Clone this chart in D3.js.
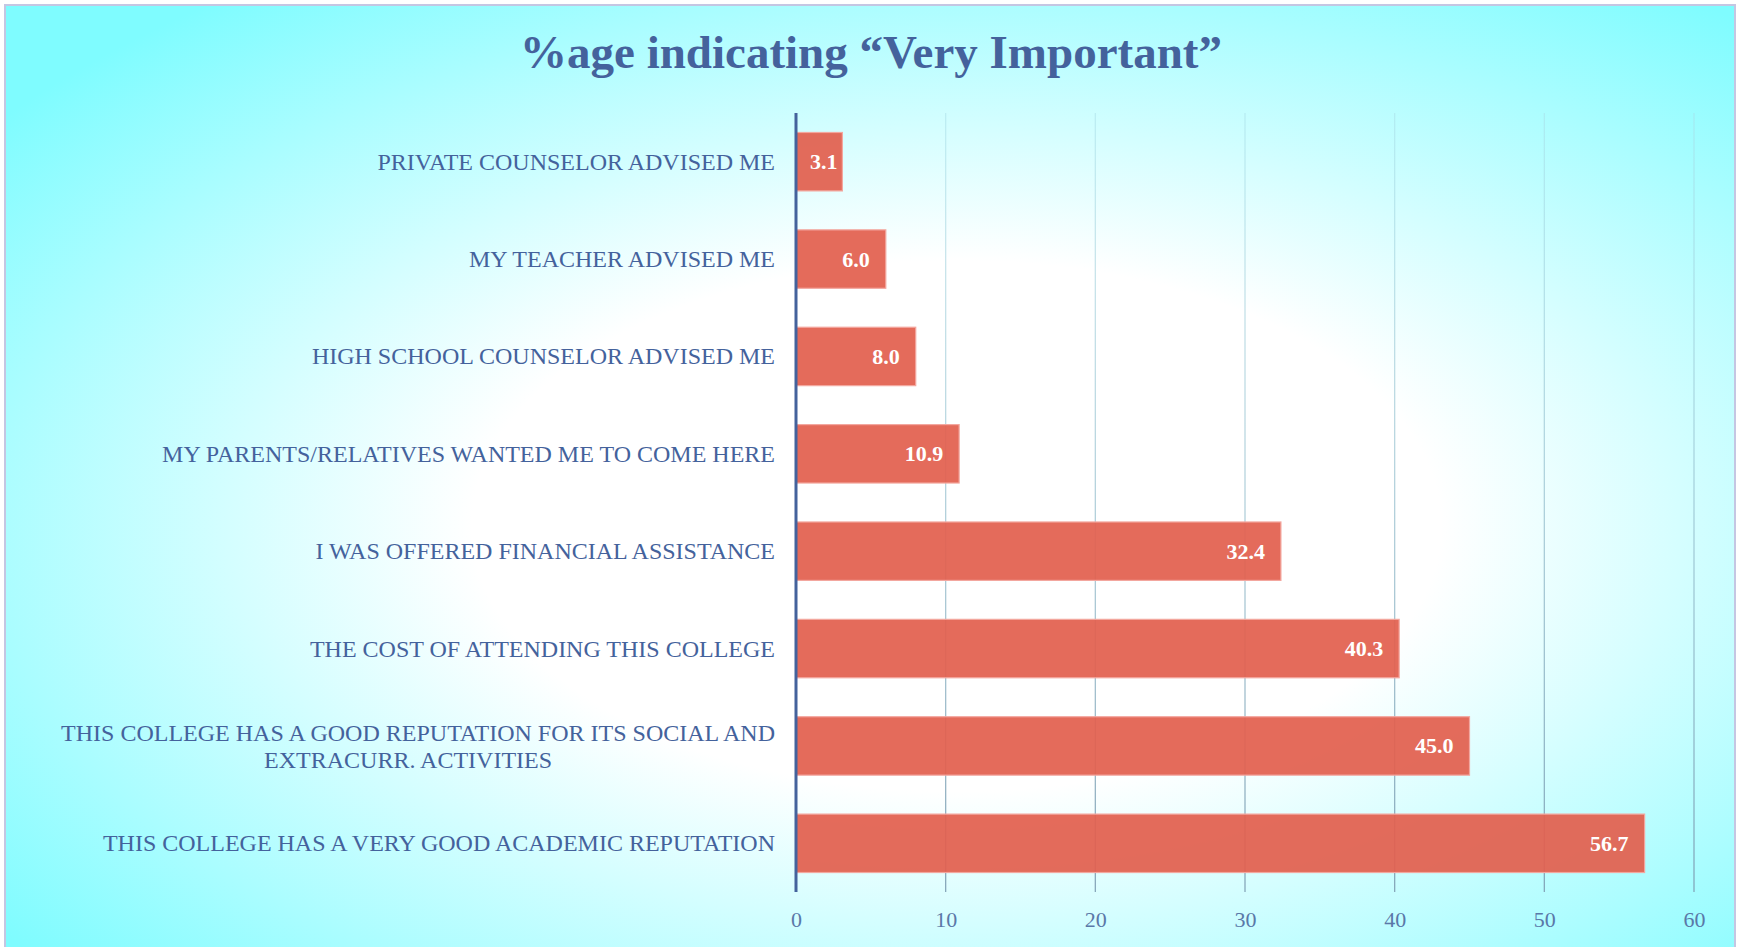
<!DOCTYPE html>
<html>
<head>
<meta charset="utf-8">
<script src="https://cdn.jsdelivr.net/npm/d3@7"></script>
<style>
  body { margin: 0; background: #fff; }
  svg text { font-family: "Liberation Serif", "DejaVu Serif", serif; }
</style>
</head>
<body>
<svg id="chart"></svg>
<script>
const width = 1739, height = 947;

const categories = [
  "PRIVATE COUNSELOR ADVISED ME",
  "MY TEACHER ADVISED ME",
  "HIGH SCHOOL COUNSELOR ADVISED ME",
  "MY PARENTS/RELATIVES WANTED ME TO COME HERE",
  "I WAS OFFERED FINANCIAL ASSISTANCE",
  "THE COST OF ATTENDING THIS COLLEGE",
  "THIS COLLEGE HAS A GOOD REPUTATION FOR ITS SOCIAL AND|EXTRACURR. ACTIVITIES",
  "THIS COLLEGE HAS A VERY GOOD ACADEMIC REPUTATION"
];
const values = [3.1, 6.0, 8.0, 10.9, 32.4, 40.3, 45.0, 56.7];
const ticks = [0, 10, 20, 30, 40, 50, 60];
const title = "%age indicating \u201cVery Important\u201d";

const textColor = "#44629c";
const margin = { top: 113, right: 45, bottom: 55, left: 796 };

const svg = d3.select("#chart").attr("width", width).attr("height", height);

// background
const defs = svg.append("defs");
const bg = defs.append("radialGradient")
  .attr("id", "bg")
  .attr("cx", "0.55").attr("cy", "0.55").attr("r", "0.7");
bg.append("stop").attr("offset", "0").attr("stop-color", "#ffffff");
bg.append("stop").attr("offset", "0.4").attr("stop-color", "#ffffff");
bg.append("stop").attr("offset", "1").attr("stop-color", "#7ffcff");

// gridlines fade in towards the bottom
const gg = defs.append("linearGradient")
  .attr("id", "grid")
  .attr("gradientUnits", "userSpaceOnUse")
  .attr("x1", 0).attr("x2", 0)
  .attr("y1", margin.top).attr("y2", height - margin.bottom);
gg.append("stop").attr("offset", "0").attr("stop-color", "#a8dce6").attr("stop-opacity", 0.5);
gg.append("stop").attr("offset", "1").attr("stop-color", "#7d9db2").attr("stop-opacity", 0.9);

svg.append("rect")
  .attr("x", 5).attr("y", 5)
  .attr("width", width - 9).attr("height", height)
  .attr("fill", "url(#bg)")
  .attr("stroke", "#c4c6e2")
  .attr("stroke-width", 2);

svg.append("text")
  .attr("x", 871).attr("y", 52)
  .attr("text-anchor", "middle")
  .attr("dominant-baseline", "central")
  .attr("font-size", 47)
  .attr("font-weight", "bold")
  .attr("fill", textColor)
  .text(title);

const x = d3.scaleLinear()
  .domain([0, 60])
  .range([margin.left, width - margin.right]);

const y = d3.scaleBand()
  .domain(categories)
  .range([margin.top, height - margin.bottom])
  .paddingInner(0.4)
  .paddingOuter(0.2);

// gridlines
svg.append("g")
  .selectAll("line")
  .data(ticks.filter(t => t > 0))
  .join("line")
  .attr("x1", d => x(d)).attr("x2", d => x(d))
  .attr("y1", margin.top).attr("y2", height - margin.bottom)
  .attr("stroke", "url(#grid)")
  .attr("stroke-width", 1.3);

// bars
svg.append("g")
  .selectAll("rect")
  .data(values)
  .join("rect")
  .attr("x", x(0))
  .attr("y", (d, i) => y(categories[i]))
  .attr("width", d => x(d) - x(0))
  .attr("height", y.bandwidth())
  .attr("fill", "#e2604f")
  .attr("fill-opacity", 0.93)
  .attr("stroke", "#f3a79f")
  .attr("stroke-width", 1.2);

// value labels
svg.append("g")
  .selectAll("text")
  .data(values)
  .join("text")
  .attr("y", (d, i) => y(categories[i]) + y.bandwidth() / 2)
  .attr("text-anchor", "end")
  .attr("dominant-baseline", "central")
  .attr("font-size", 22)
  .attr("font-weight", "bold")
  .attr("fill", "#ffffff")
  .text(d => d.toFixed(1))
  .attr("x", function(d) {
    const w = this.getComputedTextLength();
    return Math.max(x(d) - 16, x(0) + 14 + w);
  });

// category labels
const labelX = 775;
const labelSize = 24;
const labels = svg.append("g");
categories.forEach(c => {
  const lines = c.split("|");
  const cy = y(c) + y.bandwidth() / 2;
  const t = labels.append("text")
    .attr("font-size", labelSize)
    .attr("fill", textColor)
    .attr("dominant-baseline", "central");
  if (lines.length === 1) {
    t.attr("x", labelX).attr("y", cy).attr("text-anchor", "end").text(c);
  } else {
    t.attr("x", labelX).attr("y", cy - 13).attr("text-anchor", "end").text(lines[0]);
    const w = t.node().getComputedTextLength();
    labels.append("text")
      .attr("font-size", labelSize)
      .attr("fill", textColor)
      .attr("dominant-baseline", "central")
      .attr("x", labelX - w / 2 - 10).attr("y", cy + 14)
      .attr("text-anchor", "middle")
      .text(lines[1]);
  }
});

// x axis tick labels
const xAxis = svg.append("g")
  .attr("transform", `translate(0,${height - margin.bottom})`)
  .call(d3.axisBottom(x).tickValues(ticks).tickSize(0).tickPadding(19));
xAxis.select(".domain").remove();
xAxis.selectAll("text")
  .attr("font-family", "Liberation Serif, serif")
  .attr("font-size", 22)
  .attr("fill", "#5a78a8");

// y axis line
svg.append("line")
  .attr("x1", x(0)).attr("x2", x(0))
  .attr("y1", margin.top).attr("y2", height - margin.bottom)
  .attr("stroke", "#44629c")
  .attr("stroke-width", 3);
</script>
</body>
</html>
